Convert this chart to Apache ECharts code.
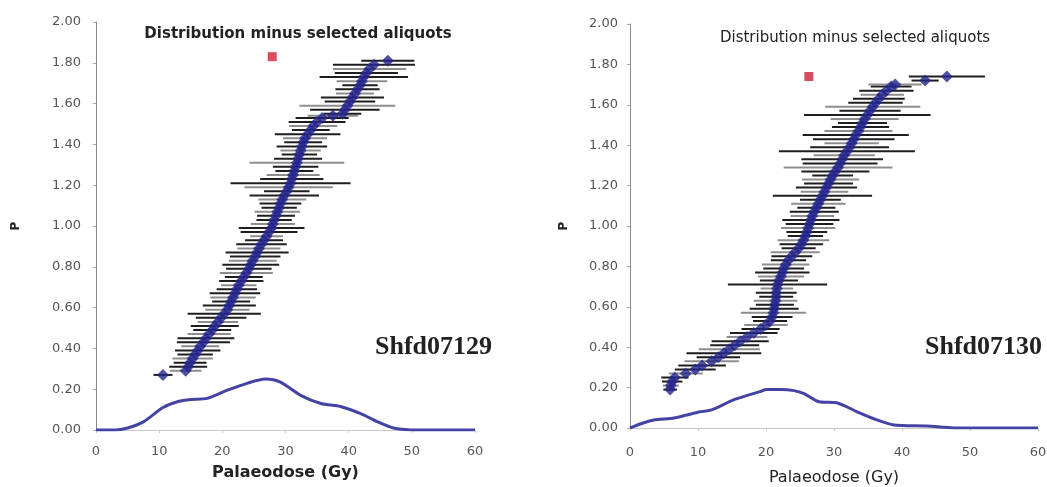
<!DOCTYPE html>
<html>
<head>
<meta charset="utf-8">
<title>Palaeodose distributions</title>
<script src="https://cdn.jsdelivr.net/npm/echarts@6/dist/echarts.min.js"></script>
<style>
  html, body { margin: 0; padding: 0; background: #fff; }
  #chart { width: 1047px; height: 487px; }
</style>
</head>
<body>
<div id="chart"></div>
<script>
// Shfd07129 - sorted palaeodoses (Gy), plotted position P and error half-width
const doseA = [10.6, 14.2, 14.6, 14.9, 15.3, 15.7, 16.1, 16.5, 17.0, 17.4, 17.9, 18.4, 18.8, 19.3, 19.8, 20.3, 20.8, 21.1, 21.4, 21.7,
  22.0, 22.3, 22.6, 23.0, 23.4, 23.8, 24.2, 24.5, 24.8, 25.2, 25.5, 25.8, 26.2, 26.6, 27.0, 27.4, 27.8, 28.0, 28.2, 28.5,
  28.7, 29.0, 29.2, 29.5, 29.8, 30.2, 30.5, 30.8, 31.0, 31.2, 31.4, 31.6, 31.8, 32.0, 32.2, 32.4, 32.6, 32.8, 33.1, 33.5,
  34.0, 34.4, 35.0, 35.8, 37.5, 39.0, 39.4, 39.8, 40.2, 40.6, 41.0, 41.4, 41.8, 42.1, 42.4, 42.8, 43.3, 44.0, 46.2];
const pA = [0.27, 0.29, 0.31, 0.33, 0.35, 0.37, 0.39, 0.41, 0.43, 0.45, 0.47, 0.49, 0.51, 0.53, 0.55, 0.57, 0.59, 0.61, 0.63, 0.65,
  0.67, 0.69, 0.71, 0.73, 0.75, 0.77, 0.79, 0.81, 0.83, 0.85, 0.87, 0.89, 0.91, 0.93, 0.95, 0.97, 0.99, 1.01, 1.03, 1.05,
  1.07, 1.09, 1.11, 1.13, 1.15, 1.17, 1.19, 1.21, 1.23, 1.25, 1.27, 1.29, 1.31, 1.33, 1.35, 1.37, 1.39, 1.41, 1.43, 1.45,
  1.47, 1.49, 1.51, 1.53, 1.54, 1.55, 1.57, 1.59, 1.61, 1.63, 1.65, 1.67, 1.69, 1.71, 1.73, 1.75, 1.77, 1.79, 1.81];
const errA = [1.5, 2.5, 3.0, 2.6, 3.2, 2.8, 3.6, 3.0, 4.2, 4.5, 3.4, 3.0, 3.8, 3.2, 4.0, 5.8, 3.5, 4.2, 3.0, 3.6,
  4.0, 3.2, 2.8, 3.5, 3.0, 4.2, 3.6, 4.5, 3.8, 4.0, 5.0, 3.4, 4.0, 3.0, 2.6, 4.5, 5.2, 3.5, 2.8, 3.0,
  3.6, 2.8, 3.3, 3.8, 5.5, 3.6, 7.0, 9.5, 5.0, 4.2, 3.0, 3.6, 7.5, 3.8, 2.8, 3.2, 4.0, 3.0, 3.5, 5.2,
  3.0, 3.8, 4.5, 4.2, 4.0, 3.0, 5.5, 7.6, 4.0, 5.0, 3.0, 3.5, 2.8, 4.0, 7.0, 5.0, 5.8, 6.5, 4.2];
// probability density curve
const kdeDoseA = [0, 3, 5, 7.5, 10.6, 13, 15, 17.6, 20.8, 24, 26.8, 29.2, 32.4, 35.6, 38.7, 41.9, 44.6, 47.1, 51, 55, 60];
const kdeA = [0, 0, 0.01, 0.04, 0.11, 0.14, 0.15, 0.155, 0.195, 0.23, 0.25, 0.235, 0.17, 0.13, 0.115, 0.08, 0.04, 0.01, 0, 0, 0];
const selectedA = [27.9, 1.83];

// Shfd07130
const doseB = [5.9, 6.0, 6.2, 6.6, 8.2, 9.6, 10.6, 12.0, 13.0, 13.8, 14.6, 15.4, 16.2, 17.2, 18.2, 19.2, 20.0, 20.6, 20.9, 21.1,
  21.2, 21.3, 21.4, 21.5, 21.5, 21.6, 21.7, 21.9, 22.2, 22.4, 22.6, 22.9, 23.3, 23.8, 24.3, 24.8, 25.2, 25.5, 25.8, 26.0,
  26.2, 26.4, 26.6, 26.8, 27.1, 27.4, 27.7, 28.0, 28.3, 28.6, 28.9, 29.2, 29.5, 29.8, 30.2, 30.6, 30.9, 31.2, 31.5, 31.9,
  32.3, 32.6, 32.9, 33.2, 33.6, 33.9, 34.2, 34.5, 34.9, 35.3, 35.7, 36.1, 36.6, 37.1, 37.7, 38.4, 39.0, 43.4, 46.6];
const pB = [0.19, 0.21, 0.23, 0.25, 0.27, 0.29, 0.31, 0.33, 0.35, 0.37, 0.39, 0.41, 0.43, 0.45, 0.47, 0.49, 0.51, 0.53, 0.55, 0.57,
  0.59, 0.61, 0.63, 0.65, 0.67, 0.69, 0.71, 0.73, 0.75, 0.77, 0.79, 0.81, 0.83, 0.85, 0.87, 0.89, 0.91, 0.93, 0.95, 0.97,
  0.99, 1.01, 1.03, 1.05, 1.07, 1.09, 1.11, 1.13, 1.15, 1.17, 1.19, 1.21, 1.23, 1.25, 1.27, 1.29, 1.31, 1.33, 1.35, 1.37,
  1.39, 1.41, 1.43, 1.45, 1.47, 1.49, 1.51, 1.53, 1.55, 1.57, 1.59, 1.61, 1.63, 1.65, 1.67, 1.69, 1.70, 1.72, 1.74];
const errB = [1.0, 1.2, 1.5, 2.0, 2.5, 3.0, 3.5, 4.0, 3.2, 5.5, 4.5, 3.6, 4.2, 3.0, 3.5, 2.8, 3.2, 2.5, 3.0, 4.8,
  3.6, 2.8, 3.2, 2.5, 3.0, 2.4, 7.3, 2.8, 3.4, 4.0, 3.0, 3.5, 2.6, 3.0, 3.6, 2.5, 3.2, 3.8, 2.6, 3.0,
  4.0, 3.5, 4.2, 3.2, 3.6, 2.8, 4.0, 3.0, 7.3, 3.5, 4.5, 3.6, 4.2, 3.0, 5.0, 8.0, 5.5, 6.0, 4.5, 10.0,
  5.8, 4.0, 6.0, 7.8, 5.0, 4.2, 3.6, 5.0, 9.3, 4.5, 7.0, 4.0, 3.8, 3.2, 4.0, 3.0, 3.9, 2.0, 5.6];
const kdeDoseB = [0, 1.5, 3.5, 6.5, 10.3, 12, 15.3, 19.1, 20.1, 22, 24.1, 25.6, 27.8, 30.4, 33.4, 36.3, 38.8, 43.7, 47.6, 60];
const kdeB = [0, 0.02, 0.04, 0.05, 0.08, 0.09, 0.14, 0.18, 0.19, 0.19, 0.185, 0.17, 0.13, 0.125, 0.08, 0.04, 0.015, 0.01, 0, 0];
const selectedB = [26.3, 1.74];

const names = ['Shfd07129', 'Shfd07130'];
const xTicks = { min: 0, max: 60, interval: 10 };
const yTicks = { min: 0, max: 2, interval: 0.2 };

const sans = 'DejaVu Sans';

function zip(xs, ys, es) {
  return xs.map((x, i) => (es ? [x, ys[i], es[i]] : [x, ys[i]]));
}

// horizontal error bar, drawn through the axis scales
function errorBar(params, api) {
  const y = api.value(1);
  const a = api.coord([api.value(0) - api.value(2), y]);
  const b = api.coord([api.value(0) + api.value(2), y]);
  return {
    type: 'line',
    shape: { x1: a[0], y1: a[1], x2: b[0], y2: b[1] },
    style: { stroke: params.dataIndex % 3 === 1 ? '#8e8e8e' : '#1e1e1e', lineWidth: 2 }
  };
}

function xAxis(idx, labelMargin, nameGap, bold) {
  return {
    gridIndex: idx, type: 'value', min: xTicks.min, max: xTicks.max, interval: xTicks.interval,
    name: 'Palaeodose (Gy)', nameLocation: 'middle', nameGap: nameGap,
    nameTextStyle: { fontFamily: sans, fontSize: 16, fontWeight: bold ? 'bold' : 'normal', color: '#222' },
    axisLine: { onZero: false, lineStyle: { color: '#c8c8c8', width: 1 } },
    axisTick: { show: true, length: 3, lineStyle: { color: '#c8c8c8' } },
    axisLabel: { margin: labelMargin, fontFamily: sans, fontSize: 13, color: '#555' },
    splitLine: { show: false }
  };
}

function yAxis(idx, labelMargin, nameGap) {
  return {
    gridIndex: idx, type: 'value', min: yTicks.min, max: yTicks.max, interval: yTicks.interval,
    name: 'P', nameLocation: 'middle', nameGap: nameGap,
    nameTextStyle: { fontFamily: sans, fontSize: 12, fontWeight: 'bold', color: '#222' },
    axisLine: { show: true, lineStyle: { color: '#8a8a8a', width: 1 } },
    axisTick: { show: true, length: 3, lineStyle: { color: '#aaa' } },
    axisLabel: { margin: labelMargin, fontFamily: sans, fontSize: 13, color: '#555', formatter: (v) => v.toFixed(2) },
    splitLine: { show: false }
  };
}

function panelSeries(idx, dose, p, err, kdeX, kdeY, sel) {
  return [
    {
      type: 'custom', xAxisIndex: idx, yAxisIndex: idx, z: 2,
      renderItem: errorBar, data: zip(dose, p, err), silent: true
    },
    {
      type: 'scatter', xAxisIndex: idx, yAxisIndex: idx, z: 3,
      symbol: 'diamond', symbolSize: 12, itemStyle: { color: '#25258c' },
      data: zip(dose, p), silent: true
    },
    {
      type: 'line', xAxisIndex: idx, yAxisIndex: idx, z: 4,
      data: zip(kdeX, kdeY), smooth: 0.25, showSymbol: false,
      lineStyle: { color: '#4343a6', width: 3 }, silent: true
    },
    {
      type: 'scatter', xAxisIndex: idx, yAxisIndex: idx, z: 4,
      symbol: 'rect', symbolSize: 9, itemStyle: { color: '#cc2238' },
      data: [sel], silent: true
    }
  ];
}

const chart = echarts.init(document.getElementById('chart'));
chart.setOption({
  animation: false,
  backgroundColor: '#fff',
  title: [
    { text: 'Distribution minus selected aliquots', left: 293, top: 22, textAlign: 'center',
      textStyle: { fontFamily: sans, fontSize: 15, fontWeight: 'bold', color: '#222' } },
    { text: 'Distribution minus selected aliquots', left: 850, top: 26, textAlign: 'center',
      textStyle: { fontFamily: sans, fontSize: 15, fontWeight: 'normal', color: '#222' } },
    { text: names[0], left: 370, top: 329,
      textStyle: { fontFamily: 'Liberation Serif', fontSize: 26, fontWeight: 'bold', color: '#222' } },
    { text: names[1], left: 920, top: 329,
      textStyle: { fontFamily: 'Liberation Serif', fontSize: 26, fontWeight: 'bold', color: '#222' } }
  ],
  // fixed plot boxes, no automatic shrinking for labels
  grid: [
    { left: 96, top: 22, width: 379, height: 408, outerBoundsMode: 'none' },
    { left: 630, top: 24, width: 408, height: 404, outerBoundsMode: 'none' }
  ],
  xAxis: [xAxis(0, 15, 35, true), xAxis(1, 18, 42, false)],
  yAxis: [yAxis(0, 15, 74), yAxis(1, 12, 60)],
  series: [].concat(
    panelSeries(0, doseA, pA, errA, kdeDoseA, kdeA, selectedA),
    panelSeries(1, doseB, pB, errB, kdeDoseB, kdeB, selectedB)
  )
});
</script>
</body>
</html>
